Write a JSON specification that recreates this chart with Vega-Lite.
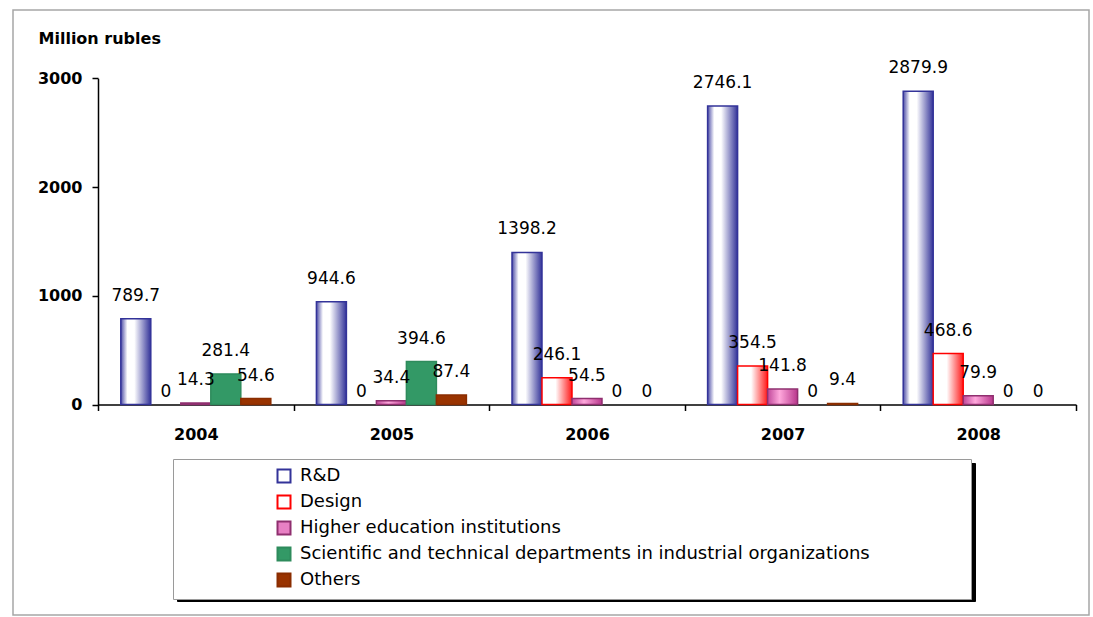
{
  "$schema": "https://vega.github.io/schema/vega-lite/v6.json",
  "width": 1076,
  "height": 605,
  "autosize": {"type": "none"},
  "padding": {"left": 13, "top": 10, "right": 4, "bottom": 2},
  "background": "white",
  "config": {"view": {"stroke": "#a6a6a6", "strokeWidth": 1.5, "fill": "white"}, "font": "DejaVu Sans"},
  "data": {
    "values": [
      {"year": "2004", "series": "R&D", "value": 789.7},
      {"year": "2004", "series": "Design", "value": 0},
      {"year": "2004", "series": "Higher education institutions", "value": 14.3},
      {"year": "2004", "series": "Scientific and technical departments in industrial organizations", "value": 281.4},
      {"year": "2004", "series": "Others", "value": 54.6},
      {"year": "2005", "series": "R&D", "value": 944.6},
      {"year": "2005", "series": "Design", "value": 0},
      {"year": "2005", "series": "Higher education institutions", "value": 34.4},
      {"year": "2005", "series": "Scientific and technical departments in industrial organizations", "value": 394.6},
      {"year": "2005", "series": "Others", "value": 87.4},
      {"year": "2006", "series": "R&D", "value": 1398.2},
      {"year": "2006", "series": "Design", "value": 246.1},
      {"year": "2006", "series": "Higher education institutions", "value": 54.5},
      {"year": "2006", "series": "Scientific and technical departments in industrial organizations", "value": 0},
      {"year": "2006", "series": "Others", "value": 0},
      {"year": "2007", "series": "R&D", "value": 2746.1},
      {"year": "2007", "series": "Design", "value": 354.5},
      {"year": "2007", "series": "Higher education institutions", "value": 141.8},
      {"year": "2007", "series": "Scientific and technical departments in industrial organizations", "value": 0},
      {"year": "2007", "series": "Others", "value": 9.4},
      {"year": "2008", "series": "R&D", "value": 2879.9},
      {"year": "2008", "series": "Design", "value": 468.6},
      {"year": "2008", "series": "Higher education institutions", "value": 79.9},
      {"year": "2008", "series": "Scientific and technical departments in industrial organizations", "value": 0},
      {"year": "2008", "series": "Others", "value": 0}
    ]
  },
  "encoding": {
    "x": {
      "field": "year",
      "type": "nominal",
      "scale": {"paddingInner": 0, "paddingOuter": 0, "range": [85, 1063]},
      "axis": {
        "title": null,
        "offset": -210.5,
        "labelAngle": 0,
        "tickBand": "extent",
        "tickSize": 6,
        "tickWidth": 1.5,
        "tickColor": "black",
        "domainColor": "black",
        "domainWidth": 1.5,
        "labelFont": "DejaVu Sans",
        "labelFontWeight": "bold",
        "labelFontSize": 16,
        "labelColor": "black",
        "labelPadding": 16,
        "grid": false
      }
    },
    "xOffset": {
      "field": "series",
      "type": "nominal",
      "scale": {
        "domain": ["R&D", "Design", "Higher education institutions", "Scientific and technical departments in industrial organizations", "Others"],
        "paddingInner": 0,
        "paddingOuter": 0.76
      }
    },
    "y": {
      "field": "value",
      "type": "quantitative",
      "scale": {"domain": [0, 3000], "nice": false, "range": [394.5, 68.3]},
      "axis": {
        "values": [0, 1000, 2000, 3000],
        "format": "d",
        "offset": -85,
        "title": "Million rubles",
        "titleAngle": 0,
        "titleAlign": "left",
        "titleBaseline": "middle",
        "titleX": -60,
        "titleY": 28.5,
        "titleFont": "DejaVu Sans",
        "titleFontSize": 16,
        "titleFontWeight": "bold",
        "titleColor": "black",
        "tickSize": 6,
        "tickWidth": 1.5,
        "tickColor": "black",
        "domainColor": "black",
        "domainWidth": 1.5,
        "labelFont": "DejaVu Sans",
        "labelFontWeight": "bold",
        "labelFontSize": 16,
        "labelColor": "black",
        "labelPadding": 10,
        "grid": false
      }
    }
  },
  "layer": [
    {
      "transform": [{"filter": "datum.value > 0"}],
      "mark": {"type": "bar", "strokeWidth": 1.5},
      "encoding": {
        "fill": {
          "condition": [
            {"test": "datum.series === 'R&D'", "value": {"gradient": "linear", "x1": 0, "y1": 0, "x2": 1, "y2": 0, "stops": [{"offset": 0, "color": "#4a4aa5"}, {"offset": 0.22, "color": "#ffffff"}, {"offset": 0.45, "color": "#ffffff"}, {"offset": 1, "color": "#333399"}]}},
            {"test": "datum.series === 'Design'", "value": {"gradient": "linear", "x1": 0, "y1": 0, "x2": 1, "y2": 0, "stops": [{"offset": 0, "color": "#ffffff"}, {"offset": 0.45, "color": "#ffffff"}, {"offset": 1, "color": "#ff1a1a"}]}},
            {"test": "datum.series === 'Higher education institutions'", "value": {"gradient": "linear", "x1": 0, "y1": 0, "x2": 1, "y2": 0, "stops": [{"offset": 0, "color": "#c0479a"}, {"offset": 0.4, "color": "#ffa8dc"}, {"offset": 1, "color": "#b8368c"}]}},
            {"test": "datum.series === 'Scientific and technical departments in industrial organizations'", "value": "#339966"}
          ],
          "value": "#993300"
        },
        "stroke": {
          "condition": [
            {"test": "datum.series === 'R&D'", "value": "#333399"},
            {"test": "datum.series === 'Design'", "value": "#ff0000"},
            {"test": "datum.series === 'Higher education institutions'", "value": "#8f2f6f"},
            {"test": "datum.series === 'Scientific and technical departments in industrial organizations'", "value": "#2e8b5c"}
          ],
          "value": "#8a2d00"
        }
      }
    },
    {
      "transform": [{"filter": "datum.value > 0"}],
      "mark": {"type": "text", "baseline": "alphabetic", "dy": -18, "font": "DejaVu Sans", "fontSize": 17, "color": "black"},
      "encoding": {
        "text": {"field": "value", "type": "quantitative", "format": "~f"}
      }
    },
    {
      "transform": [{"filter": "datum.value == 0"}],
      "mark": {"type": "text", "baseline": "alphabetic", "dy": -8, "font": "DejaVu Sans", "fontSize": 17, "color": "black"},
      "encoding": {
        "text": {"field": "value", "type": "quantitative", "format": "~f"}
      }
    },
    {
      "transform": [{"filter": "false"}],
      "mark": {"type": "point", "filled": true, "opacity": 1, "color": "black"},
      "encoding": {
        "x": null,
        "xOffset": null,
        "y": null,
        "shape": {
          "field": "series",
          "type": "nominal",
          "scale": {
            "domain": ["Others", "R&D", "Design", "Higher education institutions", "Scientific and technical departments in industrial organizations"]
          },
          "legend": {
            "orient": "none",
            "legendX": 164,
            "legendY": 453,
            "title": ".",
            "titleOrient": "right",
            "titleColor": "black",
            "titleFontSize": 6,
            "titlePadding": 660,
            "direction": "vertical",
            "symbolSize": 169,
            "symbolStrokeWidth": 2,
            "symbolFillColor": "black",
            "symbolStrokeColor": "black",
            "labelExpr": "''",
            "labelFont": "DejaVu Sans",
            "labelFontSize": 18,
            "labelColor": "black",
            "labelLimit": 1000,
            "rowPadding": 4,
            "padding": 8,
            "symbolOffset": 94,
            "labelOffset": 7,
            "strokeColor": "black",
            "fillColor": "black"
          }
        }
      }
    },
    {
      "transform": [{"filter": "false"}],
      "mark": {"type": "point", "shape": "square", "filled": true, "opacity": 1},
      "encoding": {
        "x": null,
        "xOffset": null,
        "y": null,
        "fill": {
          "field": "series",
          "type": "nominal",
          "scale": {
            "domain": ["R&D", "Design", "Higher education institutions", "Scientific and technical departments in industrial organizations", "Others"],
            "range": ["#ffffff", "#ffffff", "#e880c4", "#339966", "#993300"]
          },
          "legend": {
            "orient": "none",
            "legendX": 160,
            "legendY": 449,
            "title": ".",
            "titleOrient": "right",
            "titleColor": "white",
            "titleFontSize": 6,
            "titlePadding": 90,
            "direction": "vertical",
            "symbolType": "square",
            "symbolSize": 169,
            "symbolStrokeWidth": 2,
            "symbolOpacity": 1,
            "labelFont": "DejaVu Sans",
            "labelFontSize": 18,
            "labelColor": "black",
            "labelLimit": 1000,
            "rowPadding": 4,
            "padding": 8,
            "symbolOffset": 94,
            "labelOffset": 7,
            "strokeColor": "#9a9a9a",
            "fillColor": "white"
          }
        },
        "stroke": {
          "field": "series",
          "type": "nominal",
          "scale": {
            "domain": ["R&D", "Design", "Higher education institutions", "Scientific and technical departments in industrial organizations", "Others"],
            "range": ["#333399", "#ff0000", "#8f2f6f", "#2e8b5c", "#8a2d00"]
          },
          "legend": {
            "orient": "none",
            "legendX": 160,
            "legendY": 449,
            "title": ".",
            "titleOrient": "right",
            "titleColor": "white",
            "titleFontSize": 6,
            "titlePadding": 90,
            "direction": "vertical",
            "symbolType": "square",
            "symbolSize": 169,
            "symbolStrokeWidth": 2,
            "symbolOpacity": 1,
            "labelFont": "DejaVu Sans",
            "labelFontSize": 18,
            "labelColor": "black",
            "labelLimit": 1000,
            "rowPadding": 4,
            "padding": 8,
            "symbolOffset": 94,
            "labelOffset": 7,
            "strokeColor": "#9a9a9a",
            "fillColor": "white"
          }
        }
      }
    }
  ]
}
